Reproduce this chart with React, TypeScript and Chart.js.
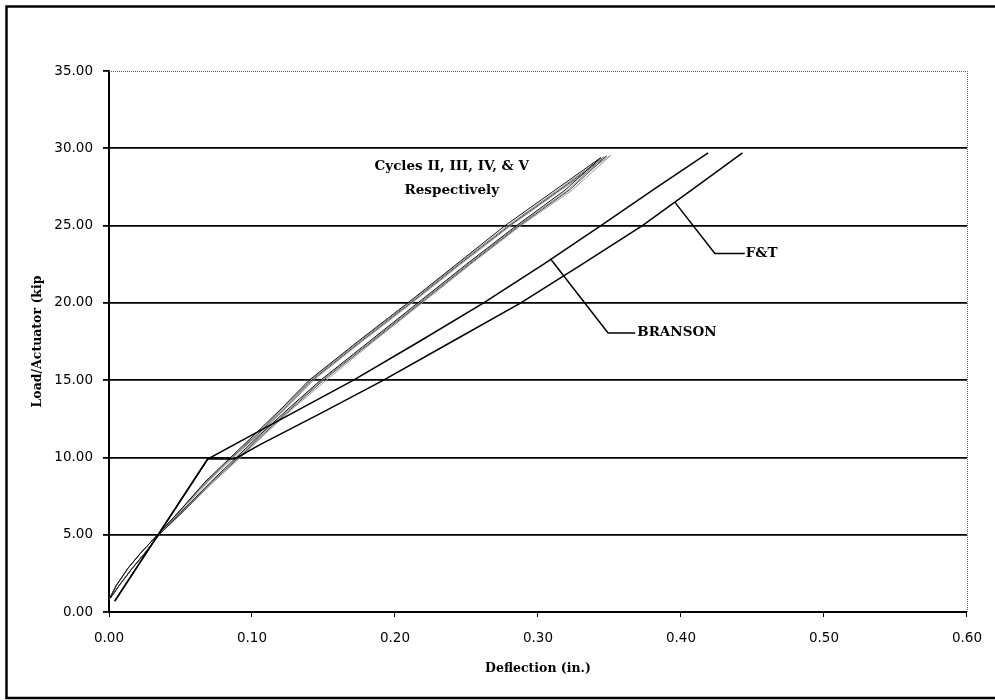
import React, { useEffect, useRef } from "react";
import { Chart, registerables } from "chart.js";

Chart.register(...registerables);

// ---- data (deflection in., load kip) ----
const Y_MIN = 0;
const Y_MAX = 35;
const Y_STEP = 5;
const X_MIN = 0;
const X_MAX = 0.6;
const X_STEP = 0.1;

const BRANSON_X = [0.004, 0.069, 0.103, 0.171, 0.217, 0.262, 0.304, 0.344, 0.382, 0.419];
const BRANSON_Y = [0.7, 9.9, 11.6, 15.0, 17.5, 20.0, 22.5, 25.0, 27.4, 29.7];

const FT_X = [0.004, 0.069, 0.088, 0.105, 0.150, 0.192, 0.240, 0.288, 0.331, 0.373, 0.409, 0.443];
const FT_Y = [0.7, 9.9, 9.9, 10.8, 12.95, 15.0, 17.5, 20.0, 22.5, 25.0, 27.4, 29.7];

// shared load levels of the hysteresis cycles
const CYCLE_Y_UP = [0.8, 1.7, 2.8, 3.8, 5.0, 6.6, 8.4, 10.0, 11.5, 13.2, 15.0, 17.5, 20.0, 22.5, 25.0, 27.3];
const CYCLE_Y_DOWN = [27.3, 25.0, 22.5, 20.0, 17.5, 15.0, 13.2, 11.5, 10.0, 8.4, 6.6, 5.0, 3.8, 2.8, 1.7, 0.9];

const CYCLE2_UP_X = [0.000, 0.005, 0.013, 0.022, 0.034, 0.050, 0.067, 0.085, 0.102, 0.121, 0.140, 0.174, 0.209, 0.243, 0.277, 0.312];
const CYCLE2_TIP = [0.344, 29.4];
const CYCLE2_DOWN_X = [0.319, 0.285, 0.250, 0.216, 0.182, 0.148, 0.126, 0.106, 0.089, 0.071, 0.052, 0.035, 0.025, 0.016, 0.007, 0.001];

const CYCLE3_UP_X = [0.000, 0.005, 0.013, 0.022, 0.034, 0.050, 0.068, 0.086, 0.103, 0.122, 0.141, 0.175, 0.210, 0.244, 0.279, 0.314];
const CYCLE3_TIP = [0.346, 29.45];
const CYCLE3_DOWN_X = [0.321, 0.286, 0.251, 0.217, 0.183, 0.149, 0.127, 0.107, 0.090, 0.072, 0.052, 0.035, 0.025, 0.016, 0.007, 0.001];

const CYCLE4_UP_X = [0.000, 0.005, 0.013, 0.022, 0.034, 0.050, 0.068, 0.086, 0.104, 0.123, 0.142, 0.176, 0.211, 0.245, 0.280, 0.315];
const CYCLE4_TIP = [0.348, 29.5];
const CYCLE4_DOWN_X = [0.322, 0.287, 0.252, 0.218, 0.184, 0.150, 0.128, 0.108, 0.091, 0.072, 0.053, 0.035, 0.025, 0.016, 0.007, 0.001];

const CYCLE5_UP_X = [0.000, 0.005, 0.013, 0.022, 0.034, 0.051, 0.069, 0.087, 0.105, 0.124, 0.143, 0.177, 0.212, 0.246, 0.281, 0.316];
const CYCLE5_TIP = [0.351, 29.55];
const CYCLE5_DOWN_X = [0.324, 0.288, 0.253, 0.219, 0.185, 0.152, 0.129, 0.109, 0.092, 0.073, 0.053, 0.035, 0.025, 0.016, 0.007, 0.001];

const X_TITLE = "Deflection (in.)";
const Y_TITLE = "Load/Actuator (kip";
const CYCLES_LABEL = ["Cycles II, III, IV, & V", "Respectively"];
const BRANSON_LABEL = "BRANSON";
const FT_LABEL = "F&T";

// annotation anchors in data units
const CYCLES_TEXT_AT = { x: 0.2397, y1: 28.8, y2: 27.3 };
const BRANSON_LEADER = [[0.3087, 22.85], [0.349, 18.05], [0.368, 18.05]];
const FT_LEADER = [[0.3958, 26.5], [0.4237, 23.2], [0.4446, 23.2]];

const zip = (xs: number[], ys: number[]) => xs.map((x, i) => ({ x, y: ys[i] }));
const loop = (up: number[], tip: number[], down: number[]) => [
  ...zip(up, CYCLE_Y_UP),
  { x: tip[0], y: tip[1] },
  ...zip(down, CYCLE_Y_DOWN),
];

const SERIF = "'DejaVu Serif', serif";
const SANS = "'DejaVu Sans', sans-serif";

const annotationPlugin = {
  id: "annotations",
  beforeDraw(chart: any) {
    const { ctx, width, height } = chart;
    ctx.save();
    ctx.fillStyle = "#ffffff";
    ctx.fillRect(0, 0, width, height);
    ctx.strokeStyle = "#000";
    ctx.lineWidth = 2.5;
    ctx.beginPath();
    ctx.moveTo(width + 5, 6.5);
    ctx.lineTo(6.5, 6.5);
    ctx.lineTo(6.5, 698);
    ctx.lineTo(width + 5, 698);
    ctx.stroke();
    ctx.restore();
  },
  beforeDatasetsDraw(chart: any) {
    const { ctx, chartArea } = chart;
    ctx.save();
    ctx.strokeStyle = "#555";
    ctx.lineWidth = 1;
    ctx.setLineDash([1, 1]);
    ctx.beginPath();
    ctx.moveTo(chartArea.left, chartArea.top + 0.5);
    ctx.lineTo(chartArea.right + 0.5, chartArea.top + 0.5);
    ctx.lineTo(chartArea.right + 0.5, chartArea.bottom);
    ctx.stroke();
    ctx.restore();
  },
  afterDatasetsDraw(chart: any) {
    const { ctx, scales } = chart;
    const px = (v: number) => scales.x.getPixelForValue(v);
    const py = (v: number) => scales.y.getPixelForValue(v);
    ctx.save();
    ctx.strokeStyle = "#000";
    ctx.lineWidth = 1.5;
    for (const leader of [BRANSON_LEADER, FT_LEADER]) {
      ctx.beginPath();
      leader.forEach((p, i) => (i === 0 ? ctx.moveTo(px(p[0]), py(p[1])) : ctx.lineTo(px(p[0]), py(p[1]))));
      ctx.stroke();
    }
    ctx.fillStyle = "#000";
    ctx.font = `bold 13.5px ${SERIF}`;
    ctx.textAlign = "center";
    ctx.textBaseline = "middle";
    ctx.fillText(CYCLES_LABEL[0], px(CYCLES_TEXT_AT.x), py(CYCLES_TEXT_AT.y1));
    ctx.fillText(CYCLES_LABEL[1], px(CYCLES_TEXT_AT.x), py(CYCLES_TEXT_AT.y2));
    ctx.textAlign = "left";
    const b = BRANSON_LEADER[2];
    ctx.fillText(BRANSON_LABEL, px(b[0]) + 2, py(b[1]));
    const f = FT_LEADER[2];
    ctx.fillText(FT_LABEL, px(f[0]) + 1, py(f[1]));
    ctx.restore();
  },
};

export default function App() {
  const ref = useRef<HTMLCanvasElement | null>(null);
  useEffect(() => {
    if (!ref.current) return;
    const lineDs = (label: string, data: any[], color: string, width: number) => ({
      label,
      data,
      showLine: true,
      borderColor: color,
      backgroundColor: color,
      borderWidth: width,
      pointRadius: 0,
      fill: false,
      tension: 0,
    });
    const chart = new Chart(ref.current, {
      type: "scatter",
      data: {
        datasets: [
          lineDs("BRANSON", zip(BRANSON_X, BRANSON_Y), "#000", 1.5),
          lineDs("F&T", zip(FT_X, FT_Y), "#000", 1.5),
          lineDs("Cycle II", loop(CYCLE2_UP_X, CYCLE2_TIP, CYCLE2_DOWN_X), "#111", 1),
          lineDs("Cycle III", loop(CYCLE3_UP_X, CYCLE3_TIP, CYCLE3_DOWN_X), "#888", 1),
          lineDs("Cycle IV", loop(CYCLE4_UP_X, CYCLE4_TIP, CYCLE4_DOWN_X), "#444", 1),
          lineDs("Cycle V", loop(CYCLE5_UP_X, CYCLE5_TIP, CYCLE5_DOWN_X), "#999", 1),
        ],
      },
      options: {
        animation: false,
        responsive: false,
        maintainAspectRatio: false,
        layout: { padding: { left: 0, top: 71, right: 25, bottom: 0 } },
        plugins: { legend: { display: false }, tooltip: { enabled: false } },
        scales: {
          x: {
            type: "linear",
            min: X_MIN,
            max: X_MAX,
            afterFit: (s: any) => {
              s.height = 88;
            },
            ticks: {
              stepSize: X_STEP,
              color: "#000",
              padding: 13,
              maxRotation: 0,
              font: { family: SANS, size: 13.5 },
              callback: (v: any) => Number(v).toFixed(2),
            },
            grid: { drawOnChartArea: false, drawTicks: true, tickLength: 5, color: "#000", tickColor: "#000" },
            border: { display: true, color: "#000", width: 2 },
            title: {
              display: true,
              text: X_TITLE,
              color: "#000",
              font: { family: SERIF, size: 12.5, weight: "bold" },
              padding: { top: 0, bottom: 24 },
            },
          },
          y: {
            type: "linear",
            min: Y_MIN,
            max: Y_MAX,
            afterFit: (s: any) => {
              s.width = 109;
            },
            ticks: {
              stepSize: Y_STEP,
              color: "#000",
              padding: 10,
              font: { family: SANS, size: 13.5 },
              callback: (v: any) => Number(v).toFixed(2),
            },
            grid: {
              drawTicks: true,
              tickLength: 6,
              tickColor: "#000",
              lineWidth: 1.8,
              color: (c: any) => (c.tick && c.tick.value === Y_MAX ? "rgba(0,0,0,0)" : "#000"),
            },
            border: { display: true, color: "#000", width: 2 },
            title: {
              display: true,
              text: Y_TITLE,
              color: "#000",
              font: { family: SERIF, size: 12.5, weight: "bold" },
              padding: { top: 30, bottom: 0 },
            },
          },
        },
      },
      plugins: [annotationPlugin],
    } as any);
    return () => chart.destroy();
  }, []);
  return (
    <div style={{ position: "absolute", left: 0, top: 0, width: 995, height: 700 }}>
      <canvas ref={ref} width={995} height={700} style={{ display: "block" }} />
    </div>
  );
}
